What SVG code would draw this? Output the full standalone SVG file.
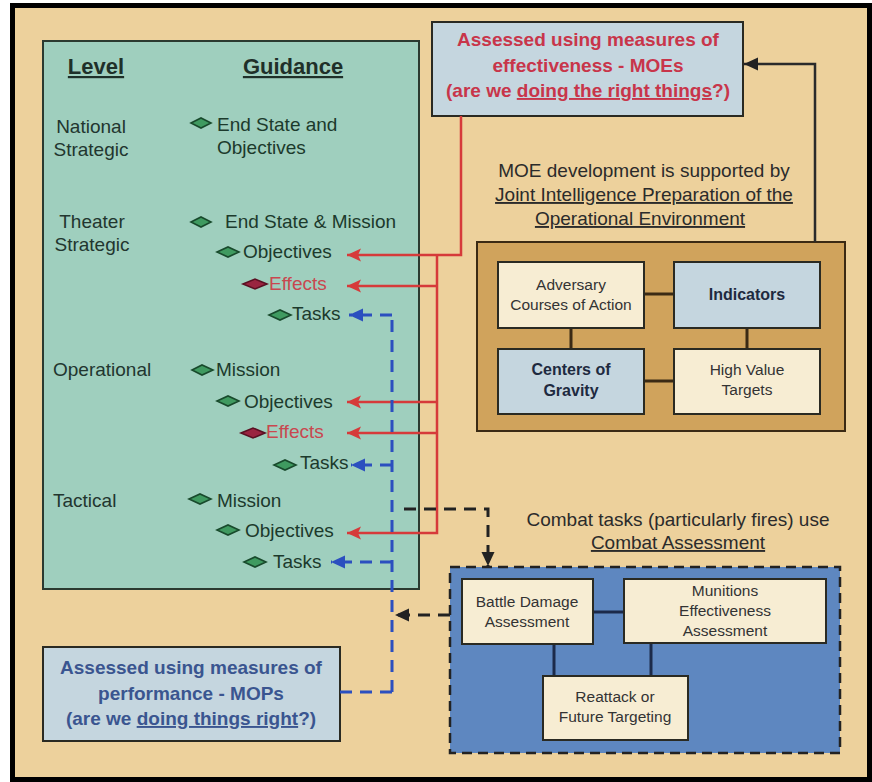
<svg xmlns="http://www.w3.org/2000/svg" width="872" height="782" viewBox="0 0 872 782">
  <defs>
    <style>
      text { font-family: "Liberation Sans", Arial, sans-serif; }
      .hdr { font-size: 22px; font-weight: bold; fill: #1f3029; text-decoration: underline; text-anchor: middle; }
      .lvl { font-size: 19px; fill: #22362f; }
      .gd { font-size: 19px; fill: #1c3a2c; }
      .fx { font-size: 19px; fill: #c9474f; }
      .dia { fill: #3f9a60; stroke: #184a2c; stroke-width: 1.6; }
      .dia-r { fill: #9a2440; stroke: #5a1022; stroke-width: 1.6; }
      .moe { font-size: 19px; font-weight: bold; fill: #c8354a; text-anchor: middle; }
      .mop { font-size: 19px; font-weight: bold; fill: #3a5590; text-anchor: middle; }
      .note { font-size: 19px; fill: #2b2b2b; text-anchor: middle; }
      .u { text-decoration: underline; }
      .box { stroke: #2a2a22; stroke-width: 2; }
      .cream { fill: #f7edd3; }
      .lblue { fill: #c5d6df; }
      .small { font-size: 15.5px; fill: #333; text-anchor: middle; }
      .smallb { font-size: 16px; font-weight: bold; fill: #1e2a40; text-anchor: middle; }
      .red { fill: none; stroke: #d63a3a; stroke-width: 2.5; }
      .blue { fill: none; stroke: #2b4fbf; stroke-width: 3; stroke-dasharray: 12 8; }
      .blk { fill: none; stroke: #222; stroke-width: 3; stroke-dasharray: 12 8; }
      .solid { fill: none; stroke: #2a2a2a; stroke-width: 2.5; }
      .link-o { stroke: #3b2a14; stroke-width: 3; }
      .link-c { stroke: #1c2a4a; stroke-width: 3; }
    </style>
    <marker id="ah-red" markerUnits="userSpaceOnUse" markerWidth="16" markerHeight="14" refX="15" refY="7" orient="auto">
      <path d="M1,7 L15,0.5 L12,7 L15,13.5 Z" fill="#d63a3a" transform="rotate(180 8 7)"/>
    </marker>
    <marker id="ah-blue" markerUnits="userSpaceOnUse" markerWidth="16" markerHeight="14" refX="15" refY="7" orient="auto">
      <path d="M1,0.5 L15,7 L1,13.5 Z" fill="#2b4fbf"/>
    </marker>
    <marker id="ah-blk" markerUnits="userSpaceOnUse" markerWidth="16" markerHeight="14" refX="15" refY="7" orient="auto">
      <path d="M1,0.5 L15,7 L1,13.5 Z" fill="#222"/>
    </marker>
  </defs>

  <!-- frame -->
  <rect x="12.5" y="5.5" width="857" height="774" fill="#edd19c" stroke="#000" stroke-width="5"/>

  <!-- level / guidance panel -->
  <g id="guidance-panel">
    <rect x="43" y="41" width="376" height="548" fill="#9fcfbe" stroke="#2b3a30" stroke-width="2"/>
    <text class="hdr" x="96" y="74">Level</text>
    <text class="hdr" x="293" y="74">Guidance</text>

    <text class="lvl" x="91" y="133" text-anchor="middle">National</text>
    <text class="lvl" x="91" y="156" text-anchor="middle">Strategic</text>
    <text class="lvl" x="92" y="228" text-anchor="middle">Theater</text>
    <text class="lvl" x="92" y="251" text-anchor="middle">Strategic</text>
    <text class="lvl" x="53" y="376">Operational</text>
    <text class="lvl" x="53" y="507">Tactical</text>

    <!-- national strategic -->
    <polygon class="dia" points="191,123 201,118 211,123 201,128"/>
    <text class="gd" x="217" y="131">End State and</text>
    <text class="gd" x="217" y="154">Objectives</text>

    <!-- theater strategic -->
    <polygon class="dia" points="191,222 201,217 211,222 201,227"/>
    <text class="gd" x="225" y="228">End State &amp; Mission</text>
    <polygon class="dia" points="217,252 228,247 239,252 228,257"/>
    <text class="gd" x="243" y="258">Objectives</text>
    <polygon class="dia-r" points="243,284 255,279 267,284 255,289"/>
    <text class="fx" x="269" y="290">Effects</text>
    <polygon class="dia" points="269,315 280,310 291,315 280,320"/>
    <text class="gd" x="292" y="320">Tasks</text>

    <!-- operational -->
    <polygon class="dia" points="192,370 202,365 213,370 202,375"/>
    <text class="gd" x="216" y="376">Mission</text>
    <polygon class="dia" points="217,401 228,396 239,401 228,406"/>
    <text class="gd" x="244" y="408">Objectives</text>
    <polygon class="dia-r" points="241,433 253,428 265,433 253,438"/>
    <text class="fx" x="266" y="438">Effects</text>
    <polygon class="dia" points="274,465 285,460 296,465 285,470"/>
    <text class="gd" x="300" y="469">Tasks</text>

    <!-- tactical -->
    <polygon class="dia" points="189,499 200,494 211,499 200,504"/>
    <text class="gd" x="217" y="507">Mission</text>
    <polygon class="dia" points="217,530 228,525 239,530 228,535"/>
    <text class="gd" x="245" y="537">Objectives</text>
    <polygon class="dia" points="244,562 255,557 266,562 255,567"/>
    <text class="gd" x="273" y="568">Tasks</text>
  </g>

  <!-- MOE box -->
  <g id="moe-box">
    <rect class="box lblue" x="432" y="22" width="311" height="94"/>
    <text class="moe" x="588" y="46">Assessed using measures of</text>
    <text class="moe" x="588" y="72">effectiveness - MOEs</text>
    <text class="moe" x="588" y="97">(are we <tspan class="u">doing the right things</tspan>?)</text>
  </g>

  <!-- JIPOE note -->
  <g id="jipoe-note">
    <text class="note" x="644" y="177">MOE development is supported by</text>
    <text class="note u" x="644" y="201">Joint Intelligence Preparation of the</text>
    <text class="note u" x="640" y="225">Operational Environment</text>
  </g>

  <!-- JIPOE group -->
  <g id="jipoe-group">
    <rect x="477" y="242" width="368" height="189" fill="#d0a35c" stroke="#3b2a14" stroke-width="2"/>
    <line class="link-o" x1="644" y1="294" x2="674" y2="294"/>
    <line class="link-o" x1="571" y1="328" x2="571" y2="349"/>
    <line class="link-o" x1="747" y1="328" x2="747" y2="349"/>
    <line class="link-o" x1="644" y1="381" x2="674" y2="381"/>
  </g>
  <g id="adversary-coa">
    <rect class="box cream" x="498" y="262" width="146" height="66"/>
    <text class="small" x="571" y="290">Adversary</text>
    <text class="small" x="571" y="310">Courses of Action</text>
  </g>
  <g id="indicators">
    <rect class="box lblue" x="674" y="262" width="146" height="66"/>
    <text class="smallb" x="747" y="300">Indicators</text>
  </g>
  <g id="centers-of-gravity">
    <rect class="box lblue" x="498" y="349" width="146" height="65"/>
    <text class="smallb" x="571" y="375">Centers of</text>
    <text class="smallb" x="571" y="396">Gravity</text>
  </g>
  <g id="high-value-targets">
    <rect class="box cream" x="674" y="349" width="146" height="65"/>
    <text class="small" x="747" y="375">High Value</text>
    <text class="small" x="747" y="395">Targets</text>
  </g>

  <!-- combat assessment note -->
  <g id="combat-note">
    <text class="note" x="678" y="526">Combat tasks (particularly fires) use</text>
    <text class="note u" x="678" y="549">Combat Assessment</text>
  </g>

  <!-- combat assessment group -->
  <g id="combat-group">
    <rect x="450" y="567" width="390" height="186" fill="#5e87c0" stroke="#222" stroke-width="2.5" stroke-dasharray="10 6"/>
    <line class="link-c" x1="593" y1="612" x2="624" y2="612"/>
    <line class="link-c" x1="554" y1="644" x2="554" y2="676"/>
    <line class="link-c" x1="651" y1="643" x2="651" y2="676"/>
  </g>
  <g id="bda">
    <rect class="box cream" x="462" y="579" width="131" height="65"/>
    <text class="small" x="527" y="607">Battle Damage</text>
    <text class="small" x="527" y="627">Assessment</text>
  </g>
  <g id="mea">
    <rect class="box cream" x="624" y="579" width="202" height="64"/>
    <text class="small" x="725" y="596">Munitions</text>
    <text class="small" x="725" y="616">Effectiveness</text>
    <text class="small" x="725" y="636">Assessment</text>
  </g>
  <g id="reattack">
    <rect class="box cream" x="543" y="676" width="145" height="64"/>
    <text class="small" x="615" y="702">Reattack or</text>
    <text class="small" x="615" y="722">Future Targeting</text>
  </g>

  <!-- MOP box -->
  <g id="mop-box">
    <rect class="box lblue" x="43" y="647" width="297" height="94"/>
    <text class="mop" x="191" y="674">Assessed using measures of</text>
    <text class="mop" x="191" y="700">performance - MOPs</text>
    <text class="mop" x="191" y="725">(are we <tspan class="u">doing things right</tspan>?)</text>
  </g>

  <!-- connectors -->
  <g id="connectors">
    <!-- MOEs to objectives and effects -->
    <path class="red" d="M461,116 V255 H347" marker-end="url(#ah-red)"/>
    <path class="red" d="M437,255 V533 H347" marker-end="url(#ah-red)"/>
    <path class="red" d="M437,286 H347" marker-end="url(#ah-red)"/>
    <path class="red" d="M437,402 H347" marker-end="url(#ah-red)"/>
    <path class="red" d="M437,433 H347" marker-end="url(#ah-red)"/>

    <!-- MOPs to tasks -->
    <path class="blue" d="M392,320 V695"/>
    <path class="blue" d="M340,692 H392"/>
    <path class="blue" d="M392,315 H349" marker-end="url(#ah-blue)"/>
    <path class="blue" d="M392,465 H351" marker-end="url(#ah-blue)"/>
    <path class="blue" d="M392,562 H331" marker-end="url(#ah-blue)"/>

    <!-- tactical tasks to/from combat assessment -->
    <path class="blk" d="M404,509 H488 V566" marker-end="url(#ah-blk)"/>
    <path class="blk" d="M450,615 H395" marker-end="url(#ah-blk)"/>

    <!-- JIPOE feeds MOE development -->
    <path class="solid" d="M815,242 V64 H744" marker-end="url(#ah-blk)"/>
  </g>
</svg>
